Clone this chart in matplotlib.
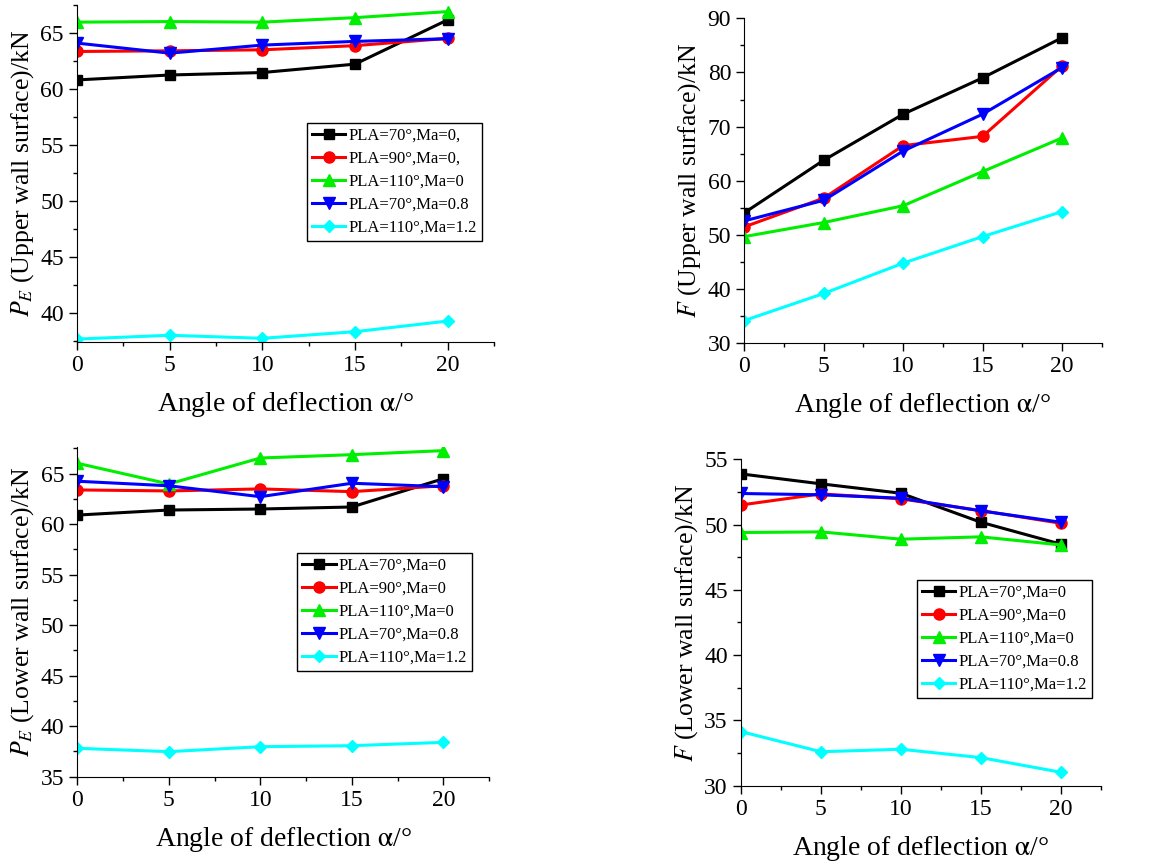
import matplotlib
matplotlib.use("Agg")
import matplotlib.pyplot as plt
from matplotlib.ticker import MultipleLocator

plt.rcParams["font.family"] = ["Liberation Serif", "DejaVu Serif"]
plt.rcParams["mathtext.fontset"] = "stix"

angles = [0, 5, 10, 15, 20]

labels_upper = ["PLA=70°,Ma=0,", "PLA=90°,Ma=0,", "PLA=110°,Ma=0",
                "PLA=70°,Ma=0.8", "PLA=110°,Ma=1.2"]
labels_lower = ["PLA=70°,Ma=0", "PLA=90°,Ma=0", "PLA=110°,Ma=0",
                "PLA=70°,Ma=0.8", "PLA=110°,Ma=1.2"]

# P_E on the upper wall surface (kN)
pe_upper = [
    [60.84, 61.28, 61.50, 62.25, 66.20],
    [63.38, 63.44, 63.53, 63.90, 64.55],
    [66.00, 66.05, 66.00, 66.40, 66.94],
    [64.13, 63.23, 63.95, 64.28, 64.52],
    [37.70, 38.04, 37.77, 38.36, 39.31],
]
# F on the upper wall surface (kN)
f_upper = [
    [54.1, 63.8, 72.3, 79.0, 86.4],
    [51.5, 56.8, 66.5, 68.2, 81.2],
    [49.7, 52.3, 55.4, 61.7, 67.9],
    [52.6, 56.4, 65.5, 72.3, 80.9],
    [34.2, 39.2, 44.8, 49.7, 54.3],
]
# P_E on the lower wall surface (kN)
pe_lower = [
    [60.90, 61.40, 61.50, 61.70, 64.50],
    [63.39, 63.29, 63.49, 63.22, 63.80],
    [66.03, 63.98, 66.55, 66.88, 67.28],
    [64.25, 63.80, 62.72, 64.05, 63.71],
    [37.81, 37.48, 37.97, 38.07, 38.40],
]
# F on the lower wall surface (kN)
f_lower = [
    [53.88, 53.12, 52.40, 50.18, 48.50],
    [51.50, 52.35, 51.97, 51.07, 50.10],
    [49.39, 49.44, 48.88, 49.06, 48.44],
    [52.38, 52.28, 52.02, 51.05, 50.18],
    [34.14, 32.60, 32.79, 32.15, 31.03],
]

colors = ["black", "red", "#00ee00", "blue", "cyan"]
markers = ["s", "o", "^", "v", "D"]
msizes = [7.5, 8, 8, 8, 6.5]

fig = plt.figure(figsize=(11.68, 8.63), dpi=100)

panels = [
    # rect, data, ylabel, ylim, ymajor, labels, legend anchor
    ([0.0659, 0.6037, 0.3570, 0.3905], pe_upper,
     r"$P_E$ (Upper wall surface)/kN", (37.44, 67.53), 5, labels_upper, (0.552, 0.65)),
    ([0.6373, 0.6022, 0.3059, 0.3766], f_upper,
     r"$F$ (Upper wall surface)/kN", (30, 90), 10, None, None),
    ([0.0662, 0.1000, 0.3525, 0.3824], pe_lower,
     r"$P_E$ (Lower wall surface)/kN", (35, 67.67), 5, labels_lower, (0.534, 0.678)),
    ([0.6344, 0.0896, 0.3080, 0.3782], f_lower,
     r"$F$ (Lower wall surface)/kN", (30, 55), 5, labels_lower, (0.489, 0.630)),
]

for rect, data, ylabel, ylim, ymaj, labels, anchor in panels:
    ax = fig.add_axes(rect)
    for i, series in enumerate(data):
        lab = labels[i] if labels else None
        ax.plot(angles, series, color=colors[i], marker=markers[i],
                markersize=msizes[i], linewidth=2.2, label=lab)
    ax.set_xlim(0, 22.5)
    ax.set_ylim(*ylim)
    ax.xaxis.set_major_locator(MultipleLocator(5))
    ax.xaxis.set_minor_locator(MultipleLocator(2.5))
    ax.yaxis.set_major_locator(MultipleLocator(ymaj))
    ax.yaxis.set_minor_locator(MultipleLocator(ymaj / 2))
    ax.spines["top"].set_visible(False)
    ax.spines["right"].set_visible(False)
    ax.tick_params(which="both", direction="out", labelsize=17, width=1)
    ax.tick_params(which="major", length=6)
    ax.tick_params(which="minor", length=3)
    ax.set_xlabel(r"Angle of deflection $\mathrm{\alpha}$/°", fontsize=20, labelpad=10)
    ax.set_ylabel(ylabel, fontsize=18.5, labelpad=3)
    if labels:
        leg = ax.legend(loc="upper left", bbox_to_anchor=anchor, borderaxespad=0,
                        fontsize=12, fancybox=False, edgecolor="black",
                        handlelength=2.0, handletextpad=0.2, labelspacing=0.42,
                        borderpad=0.3, framealpha=1)
        leg.get_frame().set_linewidth(1.0)

fig.savefig("out.png", dpi=100)
